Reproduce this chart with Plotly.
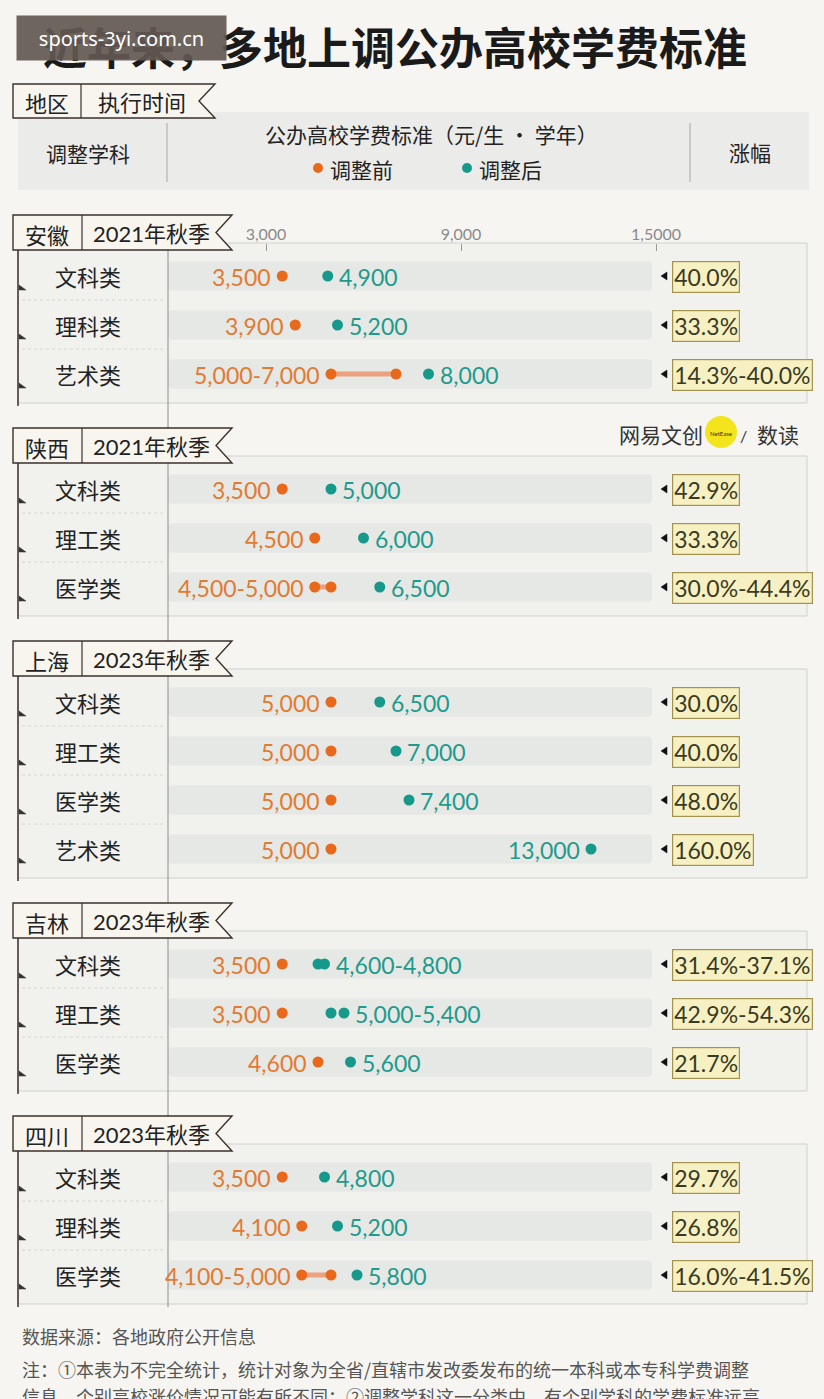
import plotly.graph_objects as go

W, H = 824, 1399

# ---------------- data ----------------
regions = ["安徽", "陕西", "上海", "吉林", "四川"]
periods = ["2021年秋季", "2021年秋季", "2023年秋季", "2023年秋季", "2023年秋季"]
subjects = [
    ["文科类", "理科类", "艺术类"],
    ["文科类", "理工类", "医学类"],
    ["文科类", "理工类", "医学类", "艺术类"],
    ["文科类", "理工类", "医学类"],
    ["文科类", "理科类", "医学类"],
]
before_low = [[3500, 3900, 5000], [3500, 4500, 4500], [5000, 5000, 5000, 5000], [3500, 3500, 4600], [3500, 4100, 4100]]
before_high = [[3500, 3900, 7000], [3500, 4500, 5000], [5000, 5000, 5000, 5000], [3500, 3500, 4600], [3500, 4100, 5000]]
after_low = [[4900, 5200, 8000], [5000, 6000, 6500], [6500, 7000, 7400, 13000], [4600, 5000, 5600], [4800, 5200, 5800]]
after_high = [[4900, 5200, 8000], [5000, 6000, 6500], [6500, 7000, 7400, 13000], [4800, 5400, 5600], [4800, 5200, 5800]]
growth = [
    ["40.0%", "33.3%", "14.3%-40.0%"],
    ["42.9%", "33.3%", "30.0%-44.4%"],
    ["30.0%", "40.0%", "48.0%", "160.0%"],
    ["31.4%-37.1%", "42.9%-54.3%", "21.7%"],
    ["29.7%", "26.8%", "16.0%-41.5%"],
]
tick_values = [3000, 9000, 15000]
tick_labels = ["3,000", "9,000", "1,5000"]

title = "近年来，多地上调公办高校学费标准"
source = "数据来源：各地政府公开信息"
note1 = "注：①本表为不完全统计，统计对象为全省/直辖市发改委发布的统一本科或本专科学费调整"
note2 = "信息，个别高校涨价情况可能有所不同；②调整学科这一分类中，有个别学科的学费标准远高"

# ---------------- style ----------------
BG = "#f6f5f1"
BOX = "#f1f1ee"
BAR = "#e5e8e4"
ORANGE = "#e8691c"
ORANGE_T = "#e27a33"
ORANGE_L = "#eca27f"
TEAL = "#16998b"
TEAL_T = "#1f9a8c"
DARK = "#222222"
FONT = "Lato, 'Noto Sans CJK SC', sans-serif"
CJK = "'Noto Sans CJK SC', sans-serif"

X0_PX = 168.5      # pixel of value 0
PX_PER = 0.0325    # pixels per yuan
xrange = [(0 - X0_PX) / PX_PER, (W - X0_PX) / PX_PER]


def px(x):
    return x / W


shapes = []
annotations = []


def rect(x0, y0, x1, y1, fill=None, line=None, lw=1, layer="below"):
    d = dict(type="rect", xref="paper", yref="y", x0=px(x0), x1=px(x1), y0=y0, y1=y1,
             layer=layer, line=dict(width=lw if line else 0, color=line or "rgba(0,0,0,0)"))
    if fill:
        d["fillcolor"] = fill
    shapes.append(d)


def line(x0, y0, x1, y1, color, lw=1, dash=None, layer="below"):
    d = dict(type="line", xref="paper", yref="y", x0=px(x0), x1=px(x1), y0=y0, y1=y1,
             layer=layer, line=dict(color=color, width=lw))
    if dash:
        d["line"]["dash"] = dash
    shapes.append(d)


def path(pts, fill, color, lw=1.5, layer="below"):
    s = "M " + " L ".join(f"{px(x):.5f},{y:.2f}" for x, y in pts) + " Z"
    shapes.append(dict(type="path", xref="paper", yref="y", path=s, fillcolor=fill,
                       line=dict(color=color, width=lw), layer=layer))


def rounded(x0, y0, x1, y1, r, fill, color=None, lw=0, layer="below"):
    p = (f"M {px(x0 + r)},{y0} L {px(x1 - r)},{y0} Q {px(x1)},{y0} {px(x1)},{y0 + r} "
         f"L {px(x1)},{y1 - r} Q {px(x1)},{y1} {px(x1 - r)},{y1} L {px(x0 + r)},{y1} "
         f"Q {px(x0)},{y1} {px(x0)},{y1 - r} L {px(x0)},{y0 + r} Q {px(x0)},{y0} {px(x0 + r)},{y0} Z")
    shapes.append(dict(type="path", xref="paper", yref="y", path=p, fillcolor=fill,
                       line=dict(color=color or "rgba(0,0,0,0)", width=lw), layer=layer))


def text(x, y, s, size=21, color=DARK, anchor="center", family=FONT, xref="paper", xshift=0, **kw):
    a = dict(x=px(x) if xref == "paper" else x, y=y, xref=xref, yref="y", text=s, showarrow=False,
             xanchor=anchor, yanchor="middle", xshift=xshift,
             font=dict(size=size, color=color, family=family))
    a.update(kw)
    annotations.append(a)


def tag(x0, y0, x1, h, divider, left, right, lc, rc, size=22):
    notch = 16
    path([(x0, y0), (x1, y0), (x1 - notch, y0 + h / 2), (x1, y0 + h), (x0, y0 + h)],
         "#f8f5ef", "#3b302c", 1.4, layer="above")
    line(divider, y0, divider, y0 + h, "#3b302c", 1.2, layer="above")
    text(lc, y0 + h / 2 + 1, left, size, DARK, family=CJK)
    text(rc, y0 + h / 2 + 1, right, size, DARK)


# ---------------- header ----------------
rect(18, 112, 809, 190, fill="#ebebe9")
line(167, 123, 167, 182, "#a8a8a8", 1)
line(690, 123, 690, 182, "#a8a8a8", 1)
tag(13, 84, 215, 34, 81, "地区", "执行时间", 47, 142)
text(88, 153, "调整学科", 21, DARK, family=CJK)
text(431, 134, "公办高校学费标准（元/生 · 学年）", 21, DARK, family=CJK)
text(750, 152, "涨幅", 21, DARK, family=CJK)
shapes.append(dict(type="circle", xref="paper", yref="y", x0=px(313), x1=px(323), y0=163, y1=173,
                   fillcolor=ORANGE, line=dict(width=0)))
shapes.append(dict(type="circle", xref="paper", yref="y", x0=px(462), x1=px(472), y0=163, y1=173,
                   fillcolor=TEAL, line=dict(width=0)))
text(328, 169, "调整前", 21, DARK, anchor="left", family=CJK)
text(477, 169, "调整后", 21, DARK, anchor="left", family=CJK)

# ---------------- sections ----------------
o_x, o_y, t_x, t_y, c_x, c_y = [], [], [], [], [], []
T = 215
first_box_top = None
last_bottom = None
for k, reg in enumerate(regions):
    n = len(subjects[k])
    box_top = T + 28
    rows = [T + 61 + i * 49 for i in range(n)]
    bottom = rows[-1] + 29
    if first_box_top is None:
        first_box_top = box_top
    last_bottom = bottom
    rect(18, box_top, 807, bottom, fill=BOX, line="#cfcfcc", lw=1)
    line(18, T + 35, 18, bottom + 3, "#3b302c", 1.5)
    for i, r in enumerate(rows):
        rounded(168, r - 14.5, 652, r + 14.5, 4, BAR)
        text(88, r, subjects[k][i], 22, DARK, family=CJK)
        path([(19, r + 9), (26, r + 14), (19, r + 14)], "#333333", "#333333", 0.5)
        if i < n - 1:
            line(22, r + 24, 164, r + 24, "#d6d6d3", 1, dash="dot")
        lo, hi = before_low[k][i], before_high[k][i]
        alo, ahi = after_low[k][i], after_high[k][i]
        o_x.append(lo); o_y.append(r)
        if hi != lo:
            o_x.append(hi); o_y.append(r)
            c_x += [lo, hi, None]; c_y += [r, r, None]
        t_x.append(alo); t_y.append(r)
        if ahi != alo:
            t_x.append(ahi); t_y.append(r)
        btxt = f"{lo:,}" if hi == lo else f"{lo:,}-{hi:,}"
        atxt = f"{alo:,}" if ahi == alo else f"{alo:,}-{ahi:,}"
        text(lo, r + 1, btxt, 23, ORANGE_T, anchor="right", xref="x", xshift=-9)
        if ahi > 10000:
            text(alo, r + 1, atxt, 23, TEAL_T, anchor="right", xref="x", xshift=-9)
        else:
            text(ahi, r + 1, atxt, 23, TEAL_T, anchor="left", xref="x", xshift=9)
        path([(667, r - 4), (661, r), (667, r + 4)], "#111111", "#111111", 0.5)
        text(672, r + 1, growth[k][i], 23, "#3a3a22", anchor="left",
             bgcolor="#f7f0c2", bordercolor="#a39350", borderwidth=1.2, borderpad=1)
    tag(13, T, 232, 35, 82, reg, periods[k], 47, 151)
    T += 66 + n * 49

line(168, first_box_top + 6, 168, last_bottom + 3, "#8c8c8c", 1)

# ---------------- logo ----------------
shapes.append(dict(type="circle", xref="paper", yref="y", x0=px(705), x1=px(737), y0=416, y1=448,
                   fillcolor="#f4e41b", line=dict(width=0)))
text(661, 434, "网易文创", 21, "#333333", family=CJK)
text(721, 433, "NetEase", 6, "#333333", family="Lato, sans-serif")
text(743, 435, "/", 16, "#333333")
text(778, 434, "数读", 21, "#333333", family=CJK)

# ---------------- footnotes ----------------
text(20, 1336, source, 18, "#555555", anchor="left", family=CJK)
text(20, 1369, note1, 18, "#555555", anchor="left", family=CJK)
text(20, 1396, note2, 18, "#555555", anchor="left", family=CJK)

# ---------------- title + watermark ----------------
text(395, 46, "<b>" + title + "</b>", 44, "#1a1a1a", family=CJK)
annotations.append(dict(x=px(122), y=38, xref="paper", yref="y", text="sports-3yi.com.cn",
                        showarrow=False, xanchor="center", yanchor="middle",
                        bgcolor="rgba(98,88,82,0.92)", width=203, height=38, borderpad=3,
                        font=dict(size=20, color="white", family="'Noto Sans', sans-serif")))

# ---------------- traces ----------------
fig = go.Figure()
fig.add_trace(go.Scatter(x=c_x, y=c_y, mode="lines", line=dict(color=ORANGE_L, width=5),
                         hoverinfo="skip", showlegend=False))
fig.add_trace(go.Scatter(x=o_x, y=o_y, mode="markers", name="调整前",
                         marker=dict(color=ORANGE, size=11, line=dict(width=0)), showlegend=False))
fig.add_trace(go.Scatter(x=t_x, y=t_y, mode="markers", name="调整后",
                         marker=dict(color=TEAL, size=11, line=dict(width=0)), showlegend=False))

fig.update_layout(
    width=W, height=H, margin=dict(l=0, r=0, t=0, b=0),
    paper_bgcolor=BG, plot_bgcolor=BG,
    xaxis=dict(range=xrange, domain=[0, 1], visible=False, fixedrange=True),
    xaxis2=dict(range=xrange, domain=[0, 1], overlaying="x", anchor="free",
                position=1 - 243 / H, side="top", tickvals=tick_values, ticktext=tick_labels,
                ticks="inside", ticklen=7, tickcolor="#9a9a9a", tickwidth=1,
                showline=False, showgrid=False, zeroline=False,
                tickfont=dict(size=16, color="#8a8a8a", family=FONT)),
    yaxis=dict(range=[H, 0], domain=[0, 1], visible=False, fixedrange=True),
    shapes=shapes, annotations=annotations, showlegend=False,
)
fig.add_trace(go.Scatter(x=[0], y=[-50], xaxis="x2", mode="markers", marker=dict(opacity=0),
                         hoverinfo="skip", showlegend=False))

fig.write_html("out.html")
